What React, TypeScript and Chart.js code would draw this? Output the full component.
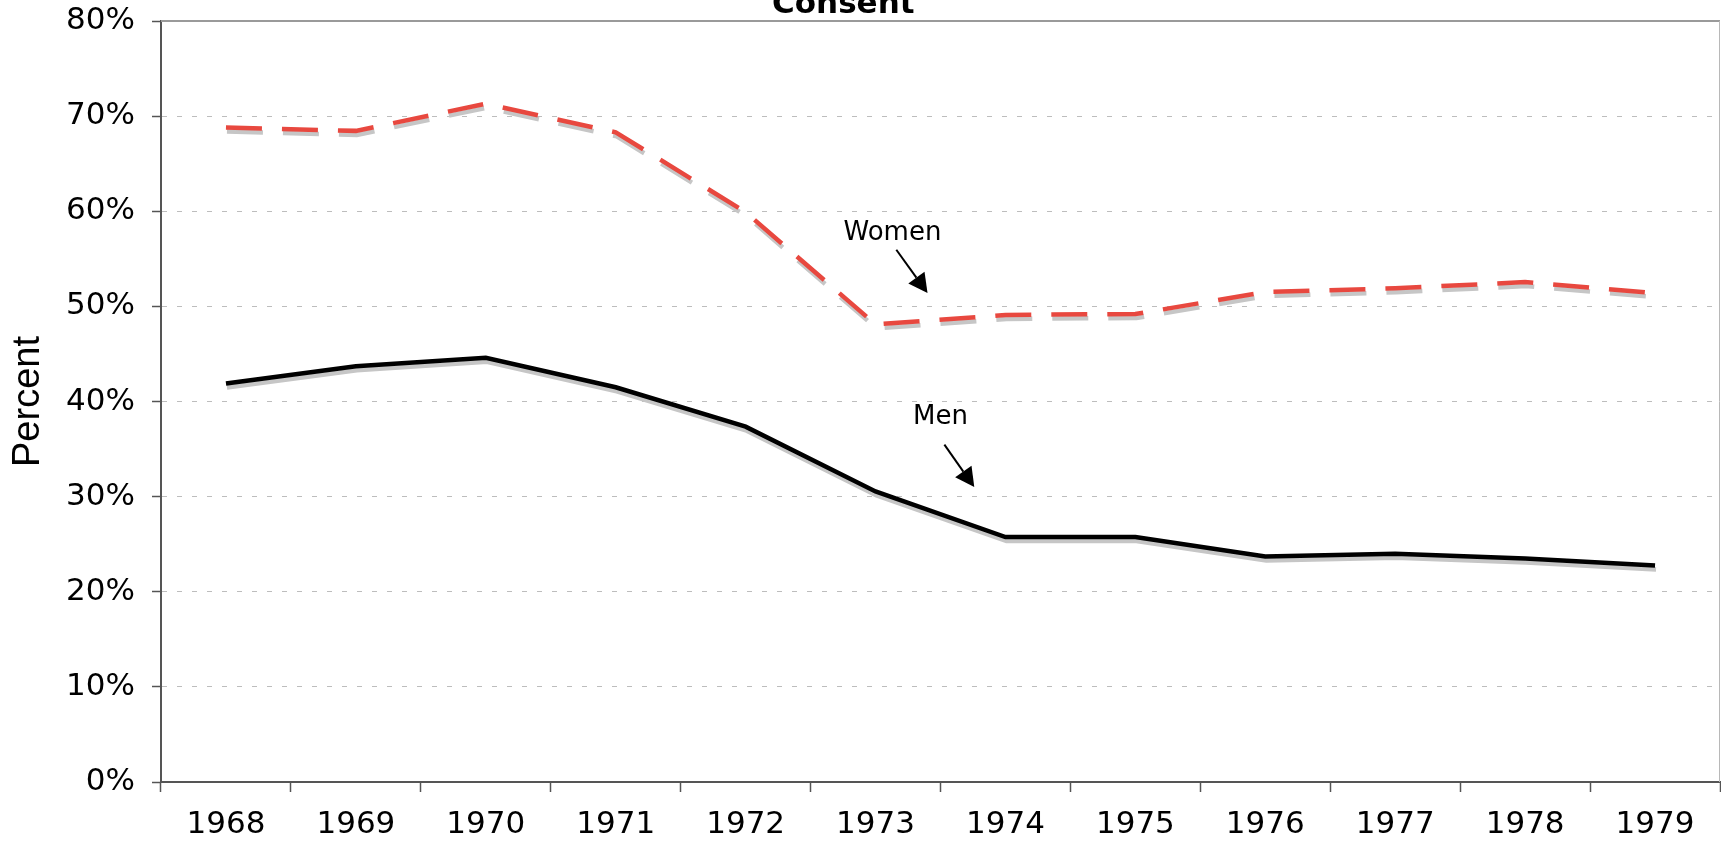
import React, { useEffect, useRef } from "react";
import { Chart, registerables } from "chart.js";

Chart.register(...registerables);

const years = ["1968", "1969", "1970", "1971", "1972", "1973", "1974", "1975", "1976", "1977", "1978", "1979"];
const women = [68.8, 68.45, 71.3, 68.3, 59.9, 48.1, 49.1, 49.2, 51.5, 51.9, 52.55, 51.4];
const men = [41.9, 43.7, 44.6, 41.5, 37.35, 30.55, 25.75, 25.75, 23.7, 24.0, 23.5, 22.75];
const yTicks = [0, 10, 20, 30, 40, 50, 60, 70, 80];
const titleText = "Consent";
const yTitle = "Percent";
// annotations: [label, textIndex, textValue, arrowFromIndex, arrowFromValue, arrowToIndex, arrowToValue]
const annWomen = ["Women", 5.13, 57.0, 5.16, 55.95, 5.4, 51.4];
const annMen = ["Men", 5.5, 37.67, 5.53, 35.46, 5.76, 31.0];

const FONT = '"DejaVu Sans", Verdana, sans-serif';

const shadowPlugin = {
  id: "shadow",
  beforeDatasetDraw(chart: any) {
    const ctx = chart.ctx;
    ctx.save();
    ctx.shadowColor = "#c6c6c6";
    ctx.shadowOffsetX = 1;
    ctx.shadowOffsetY = 4;
    ctx.shadowBlur = 0;
  },
  afterDatasetDraw(chart: any) {
    chart.ctx.restore();
  },
};

function drawArrow(ctx: CanvasRenderingContext2D, x1: number, y1: number, x2: number, y2: number) {
  const ang = Math.atan2(y2 - y1, x2 - x1);
  const hl = 19;
  const hw = 10;
  const bx = x2 - hl * Math.cos(ang);
  const by = y2 - hl * Math.sin(ang);
  ctx.beginPath();
  ctx.moveTo(x1, y1);
  ctx.lineTo(bx, by);
  ctx.lineWidth = 2;
  ctx.strokeStyle = "#000";
  ctx.stroke();
  ctx.beginPath();
  ctx.moveTo(x2, y2);
  ctx.lineTo(bx + hw * Math.sin(ang), by - hw * Math.cos(ang));
  ctx.lineTo(bx - hw * Math.sin(ang), by + hw * Math.cos(ang));
  ctx.closePath();
  ctx.fillStyle = "#000";
  ctx.fill();
}

const decorPlugin = {
  id: "decor",
  afterDraw(chart: any) {
    const { ctx, chartArea } = chart;
    const xs = chart.scales.x;
    const ys = chart.scales.y;
    ctx.save();
    // frame top and right
    ctx.strokeStyle = "#9a9a9a";
    ctx.lineWidth = 2;
    ctx.beginPath();
    ctx.moveTo(chartArea.left, chartArea.top);
    ctx.lineTo(chartArea.right, chartArea.top);
    ctx.stroke();
    ctx.strokeStyle = "#b8b8b8";
    ctx.lineWidth = 1;
    ctx.beginPath();
    ctx.moveTo(chartArea.right - 0.5, chartArea.top);
    ctx.lineTo(chartArea.right - 0.5, chartArea.bottom);
    ctx.stroke();

    // title
    ctx.fillStyle = "#000";
    ctx.font = "bold 31px " + FONT;
    ctx.textAlign = "center";
    ctx.textBaseline = "alphabetic";
    ctx.fillText(titleText, chart.width * 0.49, 13);

    // y title
    ctx.save();
    ctx.translate(39, (chartArea.top + chartArea.bottom) / 2);
    ctx.rotate(-Math.PI / 2);
    ctx.font = '38px "Liberation Sans", Arial, sans-serif';
    ctx.textAlign = "center";
    ctx.textBaseline = "alphabetic";
    ctx.fillText(yTitle, 0, 0);
    ctx.restore();

    // annotations
    for (const a of [annWomen, annMen]) {
      const [label, ti, tv, fi, fv, toi, tov] = a as [string, number, number, number, number, number, number];
      ctx.font = "26px " + FONT;
      ctx.textAlign = "center";
      ctx.textBaseline = "alphabetic";
      ctx.fillStyle = "#000";
      ctx.fillText(label, xs.getPixelForValue(ti), ys.getPixelForValue(tv));
      drawArrow(ctx, xs.getPixelForValue(fi), ys.getPixelForValue(fv), xs.getPixelForValue(toi), ys.getPixelForValue(tov));
    }
    ctx.restore();
  },
};

export default function App() {
  const ref = useRef<HTMLCanvasElement>(null);
  useEffect(() => {
    if (!ref.current) return;
    const chart = new Chart(ref.current, {
      type: "line",
      data: {
        labels: years,
        datasets: [
          {
            label: "Women",
            data: women,
            borderColor: "#e8483f",
            borderWidth: 4.5,
            borderDash: [36, 20],
            borderCapStyle: "butt",
            borderJoinStyle: "miter",
            pointRadius: 0,
            tension: 0,
            fill: false,
          },
          {
            label: "Men",
            data: men,
            borderColor: "#000000",
            borderWidth: 4.5,
            borderJoinStyle: "miter",
            pointRadius: 0,
            tension: 0,
            fill: false,
          },
        ],
      },
      options: {
        animation: false,
        responsive: true,
        maintainAspectRatio: false,
        layout: { padding: { top: 21, right: 1, left: 0, bottom: 0 } },
        plugins: {
          legend: { display: false },
          title: { display: false },
          tooltip: { enabled: false },
        },
        scales: {
          x: {
            type: "category",
            offset: true,
            grid: {
              offset: true,
              drawOnChartArea: false,
              drawTicks: true,
              tickLength: 10,
              tickColor: "#555",
              tickWidth: 1.5,
            },
            border: { color: "#555", width: 2 },
            ticks: {
              font: { family: FONT, size: 31 },
              color: "#000",
              padding: 14,
              maxRotation: 0,
              autoSkip: false,
            },
            afterFit(scale: any) {
              scale.height = 60;
            },
          },
          y: {
            min: 0,
            max: 80,
            afterBuildTicks(scale: any) {
              scale.ticks = yTicks.map((v) => ({ value: v }));
            },
            grid: {
              color: "#bdbdbd",
              lineWidth: 1,
              tickColor: "#555",
              tickLength: 9,
              tickWidth: 1.5,
              tickBorderDash: [],
            },
            border: { color: "#555", width: 2, dash: [5, 10] },
            ticks: {
              font: { family: FONT, size: 31, lineHeight: 0.1 },
              color: "#000",
              padding: 17,
              callback: (v: any) => v + "%",
            },
            afterFit(scale: any) {
              scale.width = 161;
            },
          },
        },
      },
      plugins: [shadowPlugin, decorPlugin],
    } as any);
    return () => chart.destroy();
  }, []);
  return (
    <div style={{ position: "absolute", left: 0, top: 0, width: 1721, height: 842 }}>
      <canvas ref={ref} />
    </div>
  );
}
